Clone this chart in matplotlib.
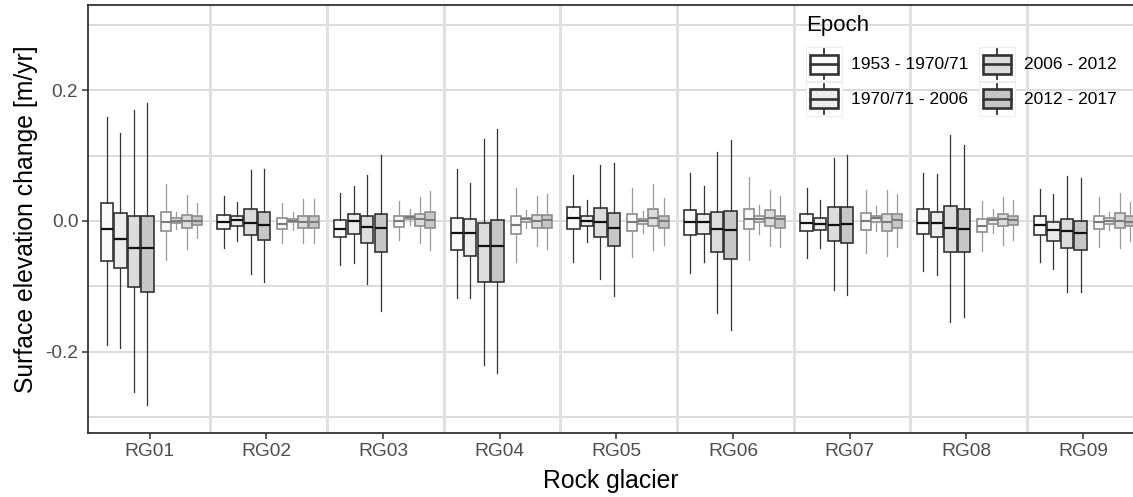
import numpy as np
import matplotlib
matplotlib.use("Agg")
import matplotlib.pyplot as plt
from matplotlib.patches import Rectangle
from matplotlib.lines import Line2D
from matplotlib.legend_handler import HandlerBase

plt.rcParams['font.family'] = ['Liberation Sans', 'DejaVu Sans']

# rock glaciers and epochs
glaciers = ["RG01", "RG02", "RG03", "RG04", "RG05", "RG06", "RG07", "RG08", "RG09"]
epochs = ["1953 - 1970/71", "1970/71 - 2006", "2006 - 2012", "2012 - 2017"]
epoch_fill = ["#fafafa", "#ececec", "#dcdcdc", "#c6c6c6"]

# wide boxes (rock glacier surface) - one row per glacier, one value per epoch
rg_lo = [[-0.190, -0.194, -0.262, -0.281],
         [-0.042, -0.030, -0.081, -0.093],
         [-0.067, -0.064, -0.096, -0.137],
         [-0.118, -0.117, -0.220, -0.232],
         [-0.062, -0.032, -0.089, -0.114],
         [-0.080, -0.062, -0.140, -0.166],
         [-0.057, -0.041, -0.105, -0.113],
         [-0.077, -0.082, -0.154, -0.147],
         [-0.063, -0.073, -0.108, -0.109]]
rg_q1 = [[-0.061, -0.072, -0.101, -0.108],
         [-0.013, -0.008, -0.021, -0.029],
         [-0.025, -0.020, -0.034, -0.048],
         [-0.045, -0.053, -0.093, -0.094],
         [-0.012, -0.008, -0.024, -0.038],
         [-0.022, -0.020, -0.048, -0.058],
         [-0.016, -0.014, -0.030, -0.033],
         [-0.020, -0.025, -0.048, -0.048],
         [-0.021, -0.031, -0.042, -0.044]]
rg_med = [[-0.012, -0.028, -0.041, -0.041],
          [-0.001, 0.001, -0.003, -0.006],
          [-0.012, 0.000, -0.009, -0.011],
          [-0.018, -0.018, -0.039, -0.039],
          [0.004, 0.000, -0.002, -0.011],
          [-0.001, -0.002, -0.012, -0.014],
          [-0.003, -0.004, -0.006, -0.005],
          [-0.003, -0.003, -0.010, -0.012],
          [-0.006, -0.014, -0.016, -0.018]]
rg_q3 = [[0.027, 0.012, 0.008, 0.008],
         [0.009, 0.007, 0.018, 0.014],
         [0.002, 0.010, 0.008, 0.011],
         [0.005, 0.003, -0.003, 0.001],
         [0.021, 0.008, 0.020, 0.012],
         [0.017, 0.010, 0.013, 0.015],
         [0.010, 0.005, 0.021, 0.021],
         [0.018, 0.013, 0.023, 0.018],
         [0.007, -0.002, 0.003, 0.000]]
rg_hi = [[0.159, 0.134, 0.169, 0.181],
         [0.038, 0.029, 0.078, 0.079],
         [0.042, 0.053, 0.070, 0.101],
         [0.079, 0.058, 0.126, 0.140],
         [0.070, 0.032, 0.086, 0.088],
         [0.074, 0.053, 0.105, 0.124],
         [0.051, 0.032, 0.096, 0.101],
         [0.074, 0.072, 0.131, 0.116],
         [0.049, 0.041, 0.068, 0.065]]

# narrow boxes (stable terrain)
st_lo = [[-0.060, -0.013, -0.043, -0.026],
         [-0.034, -0.014, -0.034, -0.034],
         [-0.029, -0.006, -0.034, -0.044],
         [-0.062, -0.010, -0.039, -0.043],
         [-0.055, -0.018, -0.045, -0.037],
         [-0.060, -0.020, -0.039, -0.040],
         [-0.049, -0.016, -0.053, -0.040],
         [-0.046, -0.018, -0.036, -0.029],
         [-0.040, -0.014, -0.041, -0.030]]
st_q1 = [[-0.016, -0.003, -0.011, -0.006],
         [-0.012, -0.002, -0.010, -0.010],
         [-0.009, 0.003, -0.008, -0.010],
         [-0.020, -0.001, -0.010, -0.011],
         [-0.016, -0.004, -0.008, -0.010],
         [-0.012, -0.002, -0.007, -0.010],
         [-0.014, -0.001, -0.015, -0.010],
         [-0.017, -0.004, -0.008, -0.006],
         [-0.012, -0.004, -0.010, -0.008]]
st_med = [[-0.001, 0.000, 0.000, 0.000],
          [-0.004, 0.000, -0.001, -0.001],
          [0.000, 0.006, 0.003, 0.002],
          [-0.006, 0.003, 0.000, 0.002],
          [-0.002, 0.000, 0.005, 0.000],
          [0.003, 0.003, 0.005, 0.003],
          [0.000, 0.004, -0.001, 0.002],
          [-0.007, 0.002, 0.003, 0.002],
          [-0.001, 0.000, 0.000, -0.001]]
st_q3 = [[0.013, 0.004, 0.009, 0.007],
         [0.004, 0.003, 0.008, 0.008],
         [0.008, 0.008, 0.010, 0.013],
         [0.008, 0.005, 0.009, 0.009],
         [0.011, 0.003, 0.018, 0.008],
         [0.019, 0.007, 0.016, 0.008],
         [0.012, 0.008, 0.010, 0.010],
         [0.003, 0.004, 0.010, 0.008],
         [0.008, 0.004, 0.012, 0.007]]
st_hi = [[0.056, 0.014, 0.040, 0.027],
         [0.027, 0.014, 0.033, 0.033],
         [0.031, 0.018, 0.036, 0.046],
         [0.050, 0.017, 0.038, 0.041],
         [0.050, 0.015, 0.056, 0.035],
         [0.067, 0.024, 0.048, 0.038],
         [0.047, 0.023, 0.048, 0.041],
         [0.031, 0.018, 0.037, 0.032],
         [0.036, 0.014, 0.042, 0.029]]

y_ticks = [-0.2, 0.0, 0.2]
y_grid = [-0.3, -0.1, 0.1, 0.3]

# dodge offsets
rg_offset = [-0.368, -0.252, -0.136, -0.020]
st_offset = [0.137, 0.227, 0.317, 0.405]


def stats_for(lo, q1, med, q3, hi, k):
    out = []
    for i in range(len(glaciers)):
        out.append({"whislo": lo[i][k], "q1": q1[i][k], "med": med[i][k],
                    "q3": q3[i][k], "whishi": hi[i][k], "fliers": []})
    return out


class BoxHandler(HandlerBase):
    # legend key drawn like a small boxplot
    def create_artists(self, legend, orig_handle, xdescent, ydescent,
                       width, height, fontsize, trans):
        fc = orig_handle.get_facecolor()
        bg = Rectangle((-xdescent, -ydescent), width, height, facecolor="white",
                       edgecolor="#eeeeee", lw=0.8, transform=trans)
        xm = -xdescent + width / 2
        wh = Line2D([xm, xm], [-ydescent + height * 0.06, -ydescent + height * 0.94],
                    color="#333333", lw=1.3, transform=trans)
        bw, bh = width * 0.78, height * 0.56
        box = Rectangle((xm - bw / 2, -ydescent + (height - bh) / 2), bw, bh,
                        facecolor=fc, edgecolor="#333333", lw=1.9, transform=trans)
        ym = -ydescent + height / 2
        md = Line2D([xm - bw / 2, xm + bw / 2], [ym, ym], color="#333333", lw=1.9,
                    transform=trans)
        return [bg, wh, box, md]


fig = plt.figure(figsize=(11.33, 4.97), dpi=100)
ax = fig.add_axes([88 / 1133, 1 - 433 / 497, 1 - 88 / 1133, 428 / 497])

x = np.arange(len(glaciers))

# grid
for v in y_ticks + y_grid:
    ax.axhline(v, color="#d9d9d9", lw=1.3, zorder=0)
for v in x + 0.52:
    ax.axvline(v, color="#e0e0e0", lw=2.2, zorder=0)

for k in range(len(epochs)):
    ax.bxp(stats_for(rg_lo, rg_q1, rg_med, rg_q3, rg_hi, k),
           positions=x + rg_offset[k], widths=0.106, patch_artist=True,
           showfliers=False, showcaps=False, manage_ticks=False,
           boxprops=dict(facecolor=epoch_fill[k], edgecolor="#333333", linewidth=1.2),
           medianprops=dict(color="#111111", linewidth=1.6),
           whiskerprops=dict(color="#333333", linewidth=0.9))
    ax.bxp(stats_for(st_lo, st_q1, st_med, st_q3, st_hi, k),
           positions=x + st_offset[k], widths=0.085, patch_artist=True,
           showfliers=False, showcaps=False, manage_ticks=False,
           boxprops=dict(facecolor=epoch_fill[k], edgecolor="#8c8c8c", linewidth=1.2),
           medianprops=dict(color="#7a7a7a", linewidth=1.5),
           whiskerprops=dict(color="#9a9a9a", linewidth=0.9))

ax.set_xlim(-0.53, 8.43)
ax.set_ylim(-0.324, 0.33)
ax.set_xticks(x)
ax.set_xticklabels(glaciers)
ax.set_yticks(y_ticks)
ax.set_yticklabels(["-0.2", "0.0", "0.2"])
ax.tick_params(axis="both", labelsize=13.8, labelcolor="#4d4d4d", color="#333333",
               length=4, width=1.1, pad=3)

for s in ["left", "bottom", "top"]:
    ax.spines[s].set_color("#333333")
    ax.spines[s].set_linewidth(1.3)
ax.spines["right"].set_visible(False)

ax.set_xlabel("Rock glacier", fontsize=17.8, labelpad=7)
ax.set_ylabel("Surface elevation change [m/yr]", fontsize=17.8, labelpad=5)

handles = [Rectangle((0, 0), 1, 1, facecolor=c) for c in epoch_fill]
leg = ax.legend(handles, epochs, handler_map={Rectangle: BoxHandler()},
                ncol=2, title="Epoch", loc="upper left",
                bbox_to_anchor=((806 - 88) / 1045, (433 - 15) / 428),
                frameon=False, fontsize=12.5, title_fontsize=16,
                handlelength=2.05, handleheight=2.64, handletextpad=0.55,
                columnspacing=0.6, labelspacing=0.02, borderpad=0,
                borderaxespad=0, alignment="left")
leg._legend_box.sep = 8

fig.savefig("out.png", dpi=100)
